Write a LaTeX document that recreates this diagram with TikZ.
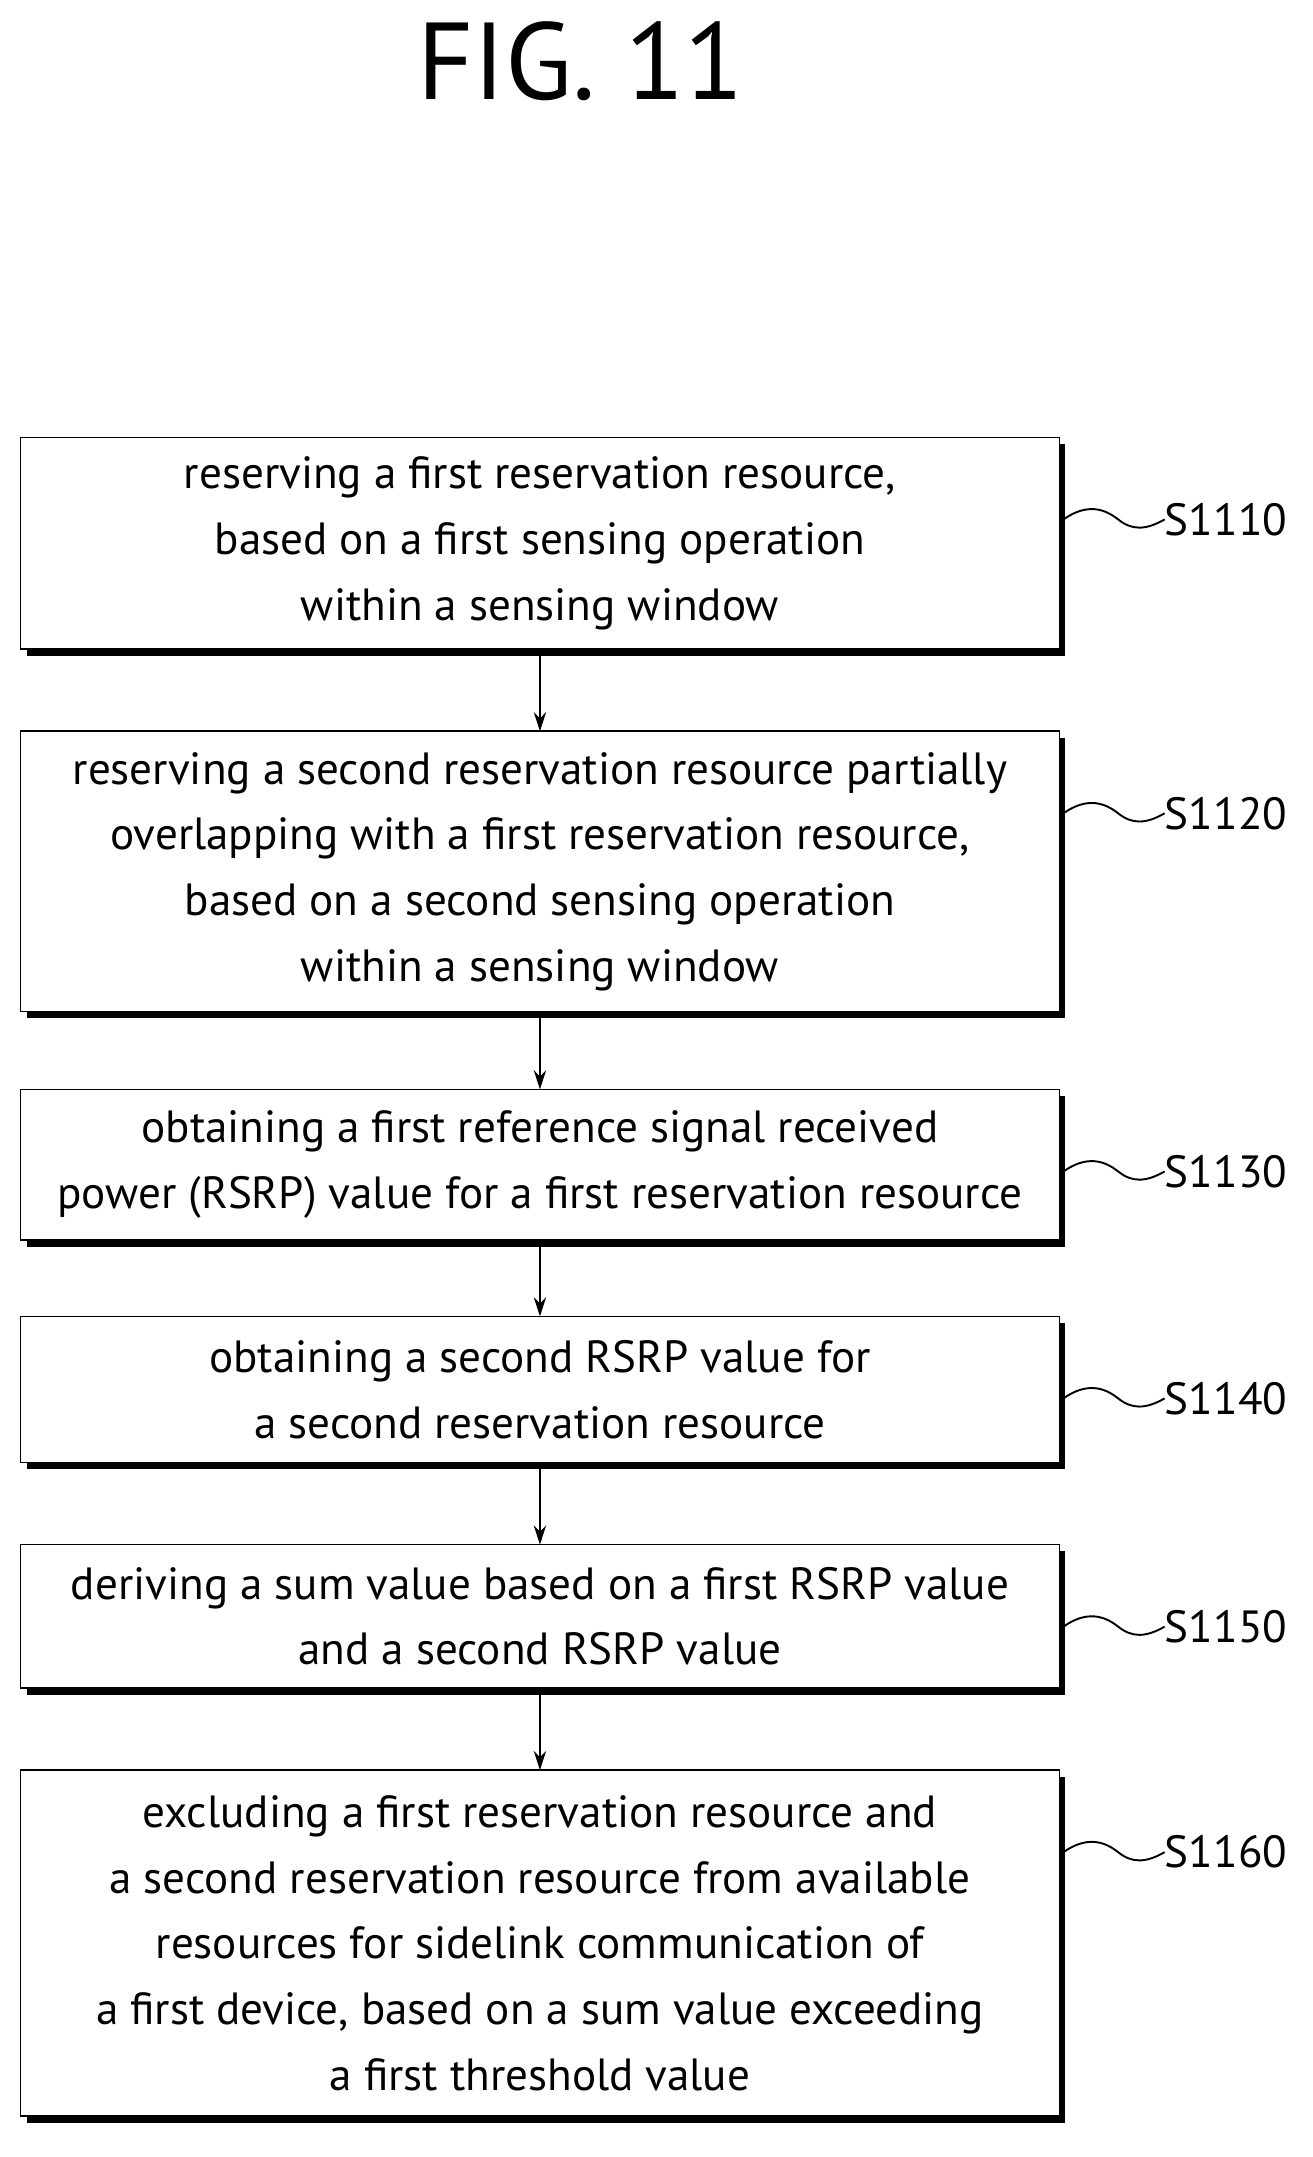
\documentclass[tikz,border=0pt]{standalone}
\usepackage{fontspec}
\setmainfont{PT Sans}
\usetikzlibrary{arrows.meta}
\begin{document}
\begin{tikzpicture}[x=1pt,y=-1pt,
  txt/.style={font=\fontsize{33}{48}\selectfont},
  arr/.style={-{Stealth[length=14pt,width=9pt]},line width=1.6pt},
  sq/.style={line width=1.4pt}]
\useasboundingbox (0,0) rectangle (960,1578);
\node[font=\fontsize{80}{90}\selectfont] (title) at (425,45) {FIG. 11};
\foreach \n/\t/\b/\l/\tx in {
 1/320/475/S1110/{reserving a first reservation resource,\\based on a first sensing operation\\within a sensing window},
 2/535/740/S1120/{reserving a second reservation resource partially\\overlapping with a first reservation resource,\\based on a second sensing operation\\within a sensing window},
 3/797/907/S1130/{obtaining a first reference signal received\\power (RSRP) value for a first reservation resource},
 4/963/1070/S1140/{obtaining a second RSRP value for\\a second reservation resource},
 5/1130/1235/S1150/{deriving a sum value based on a first RSRP value\\and a second RSRP value},
 6/1295/1548/S1160/{excluding a first reservation resource and\\a second reservation resource from available\\resources for sidelink communication of\\a first device, based on a sum value exceeding\\a first threshold value}}{
  \fill (20,\t+5) rectangle (779,\b+5);
  \draw[fill=white,line width=1.2pt] (15,\t) rectangle (775,\b);
  \pgfmathsetmacro\ly{\t+60}
  \coordinate (e\n) at (778,\ly);
  \node[txt,align=center] (b\n) at (395,{(\t+\b)/2}) {\tx};
  \coordinate (top\n) at (395,\t);
  \coordinate (bot\n) at (395,\b+5);
  \node[txt,anchor=west,inner sep=0pt] (l\n) at (852,\ly) {\l};
  \draw[sq] (e\n) .. controls (795,\ly-12) and (808,\ly-8) .. (818,\ly) .. controls (828,\ly+8) and (838,\ly+8) .. (l\n.west);
}
\foreach \a/\c in {1/2,2/3,3/4,4/5,5/6} \draw[arr] (bot\a) -- (top\c);
\end{tikzpicture}
\end{document}
